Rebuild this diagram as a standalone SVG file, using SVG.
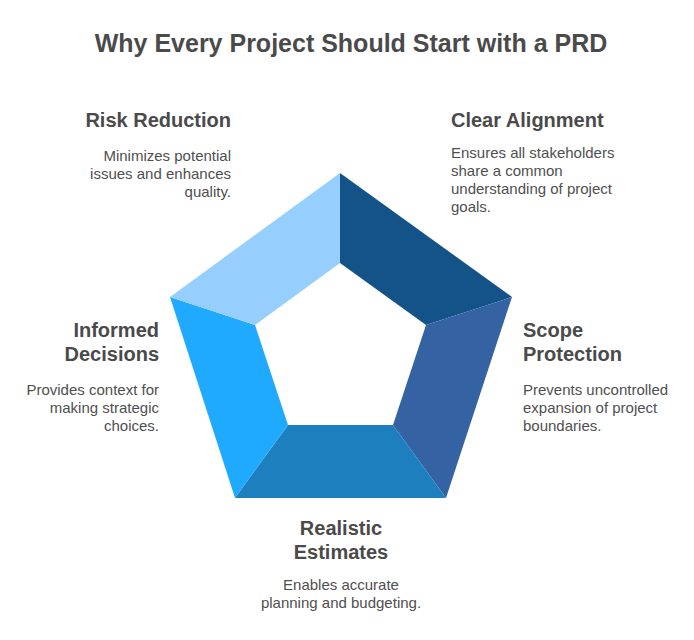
<svg xmlns="http://www.w3.org/2000/svg" width="694" height="640" viewBox="0 0 694 640">
<style>
text{font-family:"Liberation Sans",Arial,sans-serif}
.t{font-size:25px;font-weight:700;fill:#4a4a4a}
.h{font-size:20px;font-weight:700;fill:#4a4a4a}
.b{font-size:15px;fill:#4f4f4f}
.e{text-anchor:end}
.m{text-anchor:middle}
</style>
<rect width="694" height="640" fill="#ffffff"/>
<text class="t m" x="351" y="52">Why Every Project Should Start with a PRD</text>
<g id="connectors"/>
<g id="clear-alignment">
<polygon points="340,173 512,297 426,325 340,263" fill="#145387"/>
<text class="h" x="451" y="127">Clear Alignment</text>
<text class="b" x="451" y="158">Ensures all stakeholders</text>
<text class="b" x="451" y="176">share a common</text>
<text class="b" x="451" y="194">understanding of project</text>
<text class="b" x="451" y="212">goals.</text>
</g>
<g id="scope-protection">
<polygon points="512,297 446,498 393,425 426,325" fill="#3462a3"/>
<text class="h" x="523" y="337">Scope</text>
<text class="h" x="523" y="361">Protection</text>
<text class="b" x="523" y="395">Prevents uncontrolled</text>
<text class="b" x="523" y="413">expansion of project</text>
<text class="b" x="523" y="431">boundaries.</text>
</g>
<g id="realistic-estimates">
<polygon points="446,498 235,498 288,425 393,425" fill="#1d7fbd"/>
<text class="h m" x="341" y="535">Realistic</text>
<text class="h m" x="341" y="559">Estimates</text>
<text class="b m" x="341" y="590">Enables accurate</text>
<text class="b m" x="341" y="608">planning and budgeting.</text>
</g>
<g id="informed-decisions">
<polygon points="235,498 170,297 255,325 288,425" fill="#1fa9ff"/>
<text class="h e" x="159" y="337">Informed</text>
<text class="h e" x="159" y="361">Decisions</text>
<text class="b e" x="159" y="395">Provides context for</text>
<text class="b e" x="159" y="413">making strategic</text>
<text class="b e" x="159" y="431">choices.</text>
</g>
<g id="risk-reduction">
<polygon points="170,297 340,173 340,263 255,325" fill="#96cefe"/>
<text class="h e" x="231" y="127">Risk Reduction</text>
<text class="b e" x="231" y="161">Minimizes potential</text>
<text class="b e" x="231" y="179">issues and enhances</text>
<text class="b e" x="231" y="197">quality.</text>
</g>
</svg>
